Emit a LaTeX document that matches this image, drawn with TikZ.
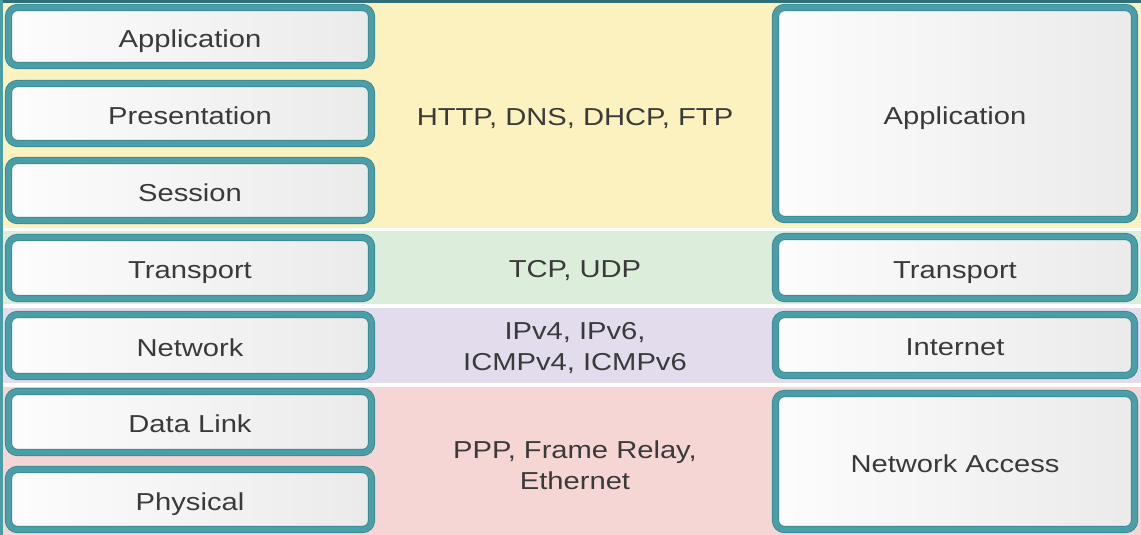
\documentclass[tikz,border=0pt]{standalone}
\usepackage{fontspec}
\setmainfont{Liberation Sans}[FakeStretch=1.19]
\begin{document}
\begin{tikzpicture}[x=1pt,y=-1pt,
  layerbox/.style={draw=tealedge, double=tealb, double distance=5.6pt, line width=0.8pt,
    rounded corners=9pt,
    left color=white!98!gray, right color=gray!16, shading angle=90,
    inner sep=0pt, text height=22pt, text depth=0.5pt,
    font=\fontsize{24.5}{30}\selectfont, text=txt},
  midtext/.style={font=\fontsize{24.5}{31}\selectfont, text=txt, align=center}]
\definecolor{tealb}{HTML}{4A9EA8}
\definecolor{tealedge}{HTML}{3A8590}
\definecolor{tealdark}{HTML}{2E6F78}
\definecolor{txt}{HTML}{3A3A3A}
\definecolor{yband}{HTML}{FCF2BF}
\definecolor{gband}{HTML}{DDEDDB}
\definecolor{pband}{HTML}{E3DCEC}
\definecolor{rband}{HTML}{F6D6D4}
\useasboundingbox (0,0) rectangle (1141,535);
% background bands
\fill[white] (0,0) rectangle (1141,535);
\fill[yband] (0,0) rectangle (1141,228);
\fill[gband] (0,231) rectangle (1141,304);
\fill[pband] (0,308) rectangle (1141,383);
\fill[rband] (0,387) rectangle (1141,535);
\fill[tealdark] (0,0) rectangle (1141,3);
\fill[tealb] (0,0) rectangle (3,535);
% left column (OSI)
\node[layerbox, minimum width=363pt, minimum height=58pt] (l1) at (190,36.5) {Application};
\node[layerbox, minimum width=363pt, minimum height=60pt] (l2) at (190,113.5) {Presentation};
\node[layerbox, minimum width=363pt, minimum height=60pt] (l3) at (190,190.5) {Session};
\node[layerbox, minimum width=363pt, minimum height=61pt] (l4) at (190,268) {Transport};
\node[layerbox, minimum width=363pt, minimum height=62pt] (l5) at (190,345.5) {Network};
\node[layerbox, minimum width=363pt, minimum height=61pt] (l6) at (190,422) {Data Link};
\node[layerbox, minimum width=363pt, minimum height=60pt] (l7) at (190,499.5) {Physical};
% right column (TCP/IP)
\node[layerbox, minimum width=359pt, minimum height=212pt] (r1) at (955,113.5) {Application};
\node[layerbox, minimum width=359pt, minimum height=62pt] (r2) at (955,267.5) {Transport};
\node[layerbox, minimum width=359pt, minimum height=61pt] (r3) at (955,345) {Internet};
\node[layerbox, minimum width=359pt, minimum height=136pt] (r4) at (955,461.5) {Network Access};
% protocols
\node[midtext] (p1) at (575,118.5) {HTTP, DNS, DHCP, FTP};
\node[midtext] (p2) at (575,271) {TCP, UDP};
\node[midtext] (p3) at (575,348) {IPv4, IPv6,\\ICMPv4, ICMPv6};
\node[midtext] (p4) at (575,465) {PPP, Frame Relay,\\Ethernet};
\end{tikzpicture}
\end{document}
